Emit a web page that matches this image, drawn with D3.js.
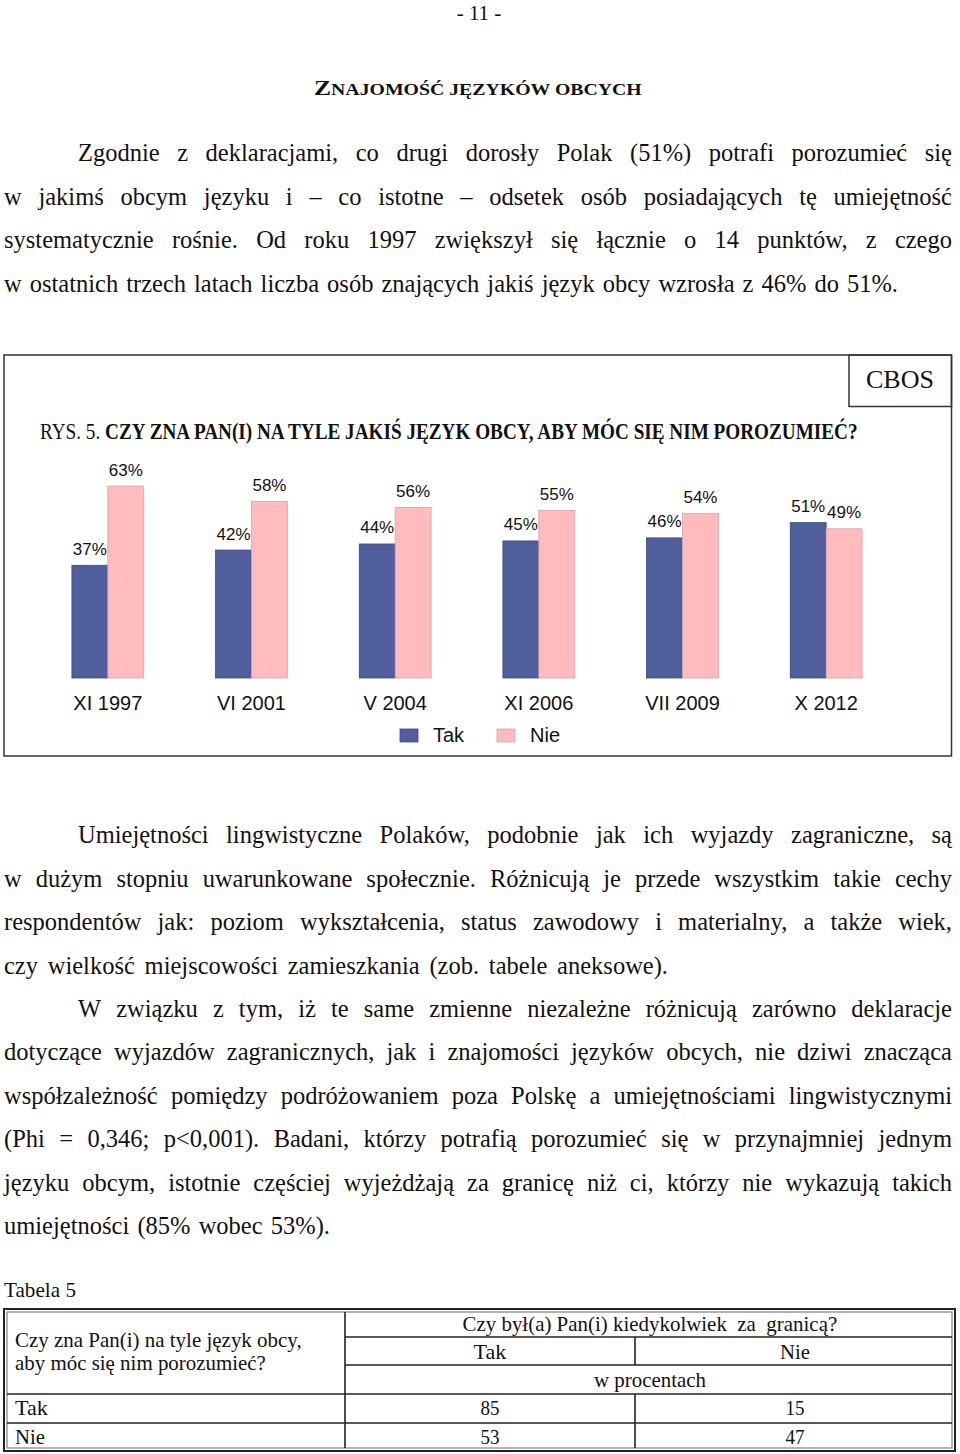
<!DOCTYPE html>
<html>
<head>
<meta charset="utf-8">
<script src="https://cdn.jsdelivr.net/npm/d3@7/dist/d3.min.js"></script>
<style>
  html, body { margin: 0; padding: 0; background: #fff; }
  svg { display: block; }
  .serif { font-family: "Liberation Serif", "Times New Roman", serif; fill: #111; }
  .sans { font-family: "Liberation Sans", Arial, sans-serif; fill: #111; }
</style>
</head>
<body>
<script>
// ---------- DATA ----------
const categories = ["XI 1997", "VI 2001", "V 2004", "XI 2006", "VII 2009", "X 2012"];
const seriesNames = ["Tak", "Nie"];
const takValues = [37, 42, 44, 45, 46, 51];
const nieValues = [63, 58, 56, 55, 54, 49];

const pageNumber = "- 11 -";
const headingFirst = "Z";
const headingRest = "NAJOMOŚĆ JĘZYKÓW OBCYCH";
const chartTitlePrefix = "RYS. 5. ";
const chartTitleMain = "CZY ZNA PAN(I) NA TYLE JAKIŚ JĘZYK OBCY, ABY  MÓC SIĘ NIM POROZUMIEĆ?";
const sourceLabel = "CBOS";

const paragraph1 = [
  "Zgodnie z deklaracjami, co drugi dorosły Polak (51%) potrafi porozumieć się",
  "w jakimś obcym języku i – co istotne – odsetek osób posiadających tę umiejętność",
  "systematycznie rośnie. Od roku 1997 zwiększył się łącznie o 14 punktów, z czego",
  "w ostatnich trzech latach liczba osób znających jakiś język obcy wzrosła z 46% do 51%."
];
const paragraph2 = [
  "Umiejętności lingwistyczne Polaków, podobnie jak ich wyjazdy zagraniczne, są",
  "w dużym stopniu uwarunkowane społecznie. Różnicują je przede wszystkim takie cechy",
  "respondentów jak: poziom wykształcenia, status zawodowy i materialny, a także wiek,",
  "czy wielkość miejscowości zamieszkania (zob. tabele aneksowe)."
];
const paragraph3 = [
  "W związku z tym, iż te same zmienne niezależne różnicują zarówno deklaracje",
  "dotyczące wyjazdów zagranicznych, jak i znajomości języków obcych, nie dziwi znacząca",
  "współzależność pomiędzy podróżowaniem poza Polskę a umiejętnościami lingwistycznymi",
  "(Phi = 0,346; p<0,001). Badani, którzy potrafią porozumieć się w przynajmniej jednym",
  "języku obcym, istotnie częściej wyjeżdżają za granicę niż ci, którzy nie wykazują takich",
  "umiejętności (85% wobec 53%)."
];

const tableCaption = "Tabela 5";
const tableRowHeader = ["Czy zna Pan(i) na tyle język obcy,", "aby móc się nim porozumieć?"];
const tableColHeader = "Czy był(a) Pan(i) kiedykolwiek  za  granicą?";
const tableColNames = ["Tak", "Nie"];
const tableUnit = "w procentach";
const tableRowNames = ["Tak", "Nie"];
const tableTak = [85, 53];
const tableNie = [15, 47];

// ---------- SETUP ----------
const W = 960, H = 1454;
const svg = d3.select("body").append("svg").attr("width", W).attr("height", H);
svg.append("rect").attr("width", W).attr("height", H).attr("fill", "#fff");

function squeeze(t, x, y, targetW, anchor) {
  const w = t.node().getComputedTextLength();
  const sx = targetW / w;
  let x0 = x;
  if (anchor === "middle") x0 = x - targetW / 2;
  t.attr("x", 0).attr("y", 0).attr("text-anchor", "start")
   .attr("transform", `translate(${x0},${y}) scale(${sx},1)`);
  return t;
}

function justLine(g, text, xStart, xEnd, y, size) {
  const words = text.split(/\s+/);
  const tmp = g.append("text").attr("class", "serif").style("font-size", size + "px");
  const widths = words.map(w => { tmp.text(w); return tmp.node().getComputedTextLength(); });
  tmp.remove();
  const sum = d3.sum(widths);
  const gap = words.length > 1 ? (xEnd - xStart - sum) / (words.length - 1) : 0;
  let x = xStart;
  words.forEach((w, i) => {
    g.append("text").attr("class", "serif").style("font-size", size + "px")
      .attr("x", x).attr("y", y).text(w);
    x += widths[i] + gap;
  });
}

const BODY = 24.5;
const textG = svg.append("g");

textG.append("text").attr("class", "serif").style("font-size", "21px")
  .attr("x", 479).attr("y", 20).attr("text-anchor", "middle").text(pageNumber);

{
  const t = textG.append("text").attr("class", "serif").style("font-weight", "bold");
  t.append("tspan").style("font-size", "22px").text(headingFirst);
  t.append("tspan").style("font-size", "17px").text(headingRest);
  squeeze(t, 314, 95, 328);
}

function paragraph(lines, baselines, lastEnd) {
  lines.forEach((ln, i) => {
    const xs = i === 0 ? 78 : 4;
    const xe = i === lines.length - 1 ? lastEnd : 952;
    justLine(textG, ln, xs, xe, baselines[i], BODY);
  });
}
paragraph(paragraph1, [161, 204.5, 248, 291.5], 898);
paragraph(paragraph2, [843, 886.5, 930, 973.5], 668);
paragraph(paragraph3, [1016.5, 1060, 1103.5, 1147, 1190.5, 1234], 330);

// ---------- CHART FRAME ----------
const frame = svg.append("g");
frame.append("rect").attr("x", 4).attr("y", 355).attr("width", 947.5).attr("height", 401)
  .attr("fill", "none").attr("stroke", "#333").attr("stroke-width", 1.5);
frame.append("rect").attr("x", 849).attr("y", 355).attr("width", 102.5).attr("height", 51.5)
  .attr("fill", "none").attr("stroke", "#333").attr("stroke-width", 1.5);
frame.append("text").attr("class", "serif").style("font-size", "26px")
  .attr("x", 900).attr("y", 388).attr("text-anchor", "middle").text(sourceLabel);

{
  const t = frame.append("text").attr("class", "serif").style("font-size", "24px");
  t.append("tspan").text(chartTitlePrefix);
  t.append("tspan").style("font-weight", "bold").text(chartTitleMain);
  squeeze(t, 40, 439, 818);
}

// ---------- BARS ----------
const x0 = d3.scaleBand().domain(categories).range([36, 898]).paddingInner(0.5).paddingOuter(0.25);
const x1 = d3.scaleBand().domain(seriesNames).range([0, x0.bandwidth()]);
const y = d3.scaleLinear().domain([0, 100]).range([678, 373.4]);
const color = d3.scaleOrdinal().domain(seriesNames).range(["#515e9e", "#ffbbbd"]);
const strokeC = d3.scaleOrdinal().domain(seriesNames).range(["#3d477f", "#d4a3a6"]);

const data = categories.map((c, i) => ({ cat: c, vals: [
  { s: "Tak", v: takValues[i] }, { s: "Nie", v: nieValues[i] } ] }));

const groups = svg.append("g").selectAll("g").data(data).join("g")
  .attr("transform", d => `translate(${x0(d.cat)},0)`);

groups.selectAll("rect").data(d => d.vals).join("rect")
  .attr("x", d => x1(d.s)).attr("width", x1.bandwidth())
  .attr("y", d => y(d.v)).attr("height", d => y(0) - y(d.v))
  .attr("fill", d => color(d.s)).attr("stroke", d => strokeC(d.s)).attr("stroke-width", 0.8);

groups.selectAll("text.val").data(d => d.vals).join("text")
  .attr("class", "val sans").style("font-size", "17px")
  .attr("x", d => x1(d.s) + x1.bandwidth() / 2).attr("y", d => y(d.v) - 10.5)
  .attr("text-anchor", "middle").text(d => d.v + "%");

const axis = svg.append("g").attr("transform", `translate(0,${y(0)})`)
  .call(d3.axisBottom(x0).tickSize(0).tickPadding(0));
axis.select(".domain").remove();
axis.selectAll("text").attr("class", "sans").attr("dy", null).attr("y", 32)
  .style("font-size", "20px").style("font-family", "'Liberation Sans', Arial, sans-serif").attr("fill", "#111");

const legX = [400, 497];
const leg = svg.append("g").selectAll("g").data(seriesNames).join("g")
  .attr("transform", (d, i) => `translate(${legX[i]},729)`);
leg.append("rect").attr("width", 18).attr("height", 13)
  .attr("fill", d => color(d)).attr("stroke", d => strokeC(d)).attr("stroke-width", 0.8);
leg.append("text").attr("class", "sans").style("font-size", "20px")
  .attr("x", 33).attr("y", 13).text(d => d);

// ---------- TABLE ----------
const tg = svg.append("g");
squeeze(tg.append("text").attr("class", "serif").style("font-size", "21px").text(tableCaption), 4, 1297, 72);

const TL = 4, TR = 955, TT = 1309, TB = 1451;
const cDiv = 345, cMid = 635;
const rY = [1337, 1365, 1394, 1423];
tg.append("rect").attr("x", TL).attr("y", TT).attr("width", TR - TL).attr("height", TB - TT)
  .attr("fill", "none").attr("stroke", "#222").attr("stroke-width", 2);
tg.append("rect").attr("x", TL + 3).attr("y", TT + 3).attr("width", TR - TL - 6).attr("height", TB - TT - 6)
  .attr("fill", "none").attr("stroke", "#666").attr("stroke-width", 1);
const line = (x1_, y1_, x2_, y2_) => tg.append("line").attr("x1", x1_).attr("y1", y1_)
  .attr("x2", x2_).attr("y2", y2_).attr("stroke", "#222").attr("stroke-width", 1.6);
line(cDiv, TT + 3, cDiv, TB - 3);
line(cDiv, rY[0], TR - 3, rY[0]);
line(cDiv, rY[1], TR - 3, rY[1]);
line(TL + 3, rY[2], TR - 3, rY[2]);
line(TL + 3, rY[3], TR - 3, rY[3]);
line(cMid, rY[0], cMid, rY[1]);
line(cMid, rY[2], cMid, TB - 3);

const TF = 21;
const tt = (txt, x, yy, anchor) => tg.append("text").attr("class", "serif").style("font-size", TF + "px")
  .style("white-space", "pre").attr("x", x).attr("y", yy).attr("text-anchor", anchor || "start").text(txt);
squeeze(tt(tableColHeader, 0, 0), 650, 1331, 375, "middle");
squeeze(tt(tableRowHeader[0], 0, 0), 15, 1347, 287);
squeeze(tt(tableRowHeader[1], 0, 0), 15, 1370, 251);
squeeze(tt(tableColNames[0], 0, 0), 490, 1359, 33, "middle");
squeeze(tt(tableColNames[1], 0, 0), 795, 1359, 30, "middle");
squeeze(tt(tableUnit, 0, 0), 650, 1387, 112, "middle");
tableRowNames.forEach((r, i) => {
  const yy = [1415, 1444][i];
  squeeze(tt(r, 0, 0), 15, yy, i === 0 ? 33 : 30);
  squeeze(tt(String(tableTak[i]), 0, 0), 490, yy, 19, "middle");
  squeeze(tt(String(tableNie[i]), 0, 0), 795, yy, 19, "middle");
});
</script>
</body>
</html>
